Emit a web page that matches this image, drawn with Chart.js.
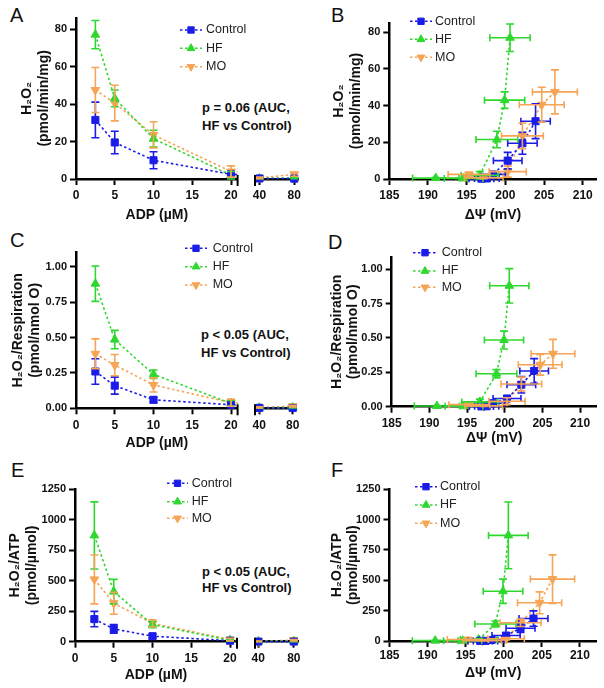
<!DOCTYPE html>
<html>
<head>
<meta charset="utf-8">
<script src="https://cdn.jsdelivr.net/npm/chart.js@4.4.0/dist/chart.umd.min.js"></script>
<style>
  body { margin: 0; background: #fff; width: 604px; height: 688px; position: relative; overflow: hidden; font-family: "Liberation Sans", Arial, sans-serif; }
  canvas { position: absolute; }
  .lbl { position: absolute; font-size: 20px; line-height: 20px; color: #111; }
  .note { position: absolute; font-weight: bold; font-size: 13px; white-space: nowrap; color: #111; }
</style>
</head>
<body>
<div class="lbl" style="left:10px;top:5px">A</div>
<div class="lbl" style="left:331px;top:5px">B</div>
<div class="lbl" style="left:10px;top:230px">C</div>
<div class="lbl" style="left:328px;top:232px">D</div>
<div class="lbl" style="left:11px;top:460px">E</div>
<div class="lbl" style="left:331px;top:460px">F</div>
<div class="note" style="left:202px;top:99px;line-height:17.5px">p = 0.06 (AUC,<br>HF vs Control)</div>
<div class="note" style="left:201px;top:326px;line-height:18px">p &lt; 0.05 (AUC,<br>HF vs Control)</div>
<div class="note" style="left:202px;top:564px;line-height:15.5px">p &lt; 0.05 (AUC,<br>HF vs Control)</div>
<script>
// ADP steps (µM)
const adp = [2.5, 5, 10, 20, 40, 80];

// membrane potential ΔΨ (mV) at each ADP step, with SEM
const psiControl = [203.9, 202.2, 200.3, 198.4, 197.6, 196.9];
const psiControlErr = [1.9, 1.9, 1.85, 1.6, 1.6, 1.6];
const psiHF = [200.6, 199.9, 198.9, 196.7, 194.6, 191.0];
const psiHFErr = [2.6, 2.6, 2.7, 2.4, 2.5, 3.0];
const psiMO = [206.4, 204.7, 202.2, 200.3, 197.2, 195.3];
const psiMOErr = [2.9, 2.9, 2.7, 2.4, 2.5, 2.7];

// H2O2 emission (pmol/min/mg)
const h2o2Control = [31.5, 19.5, 10, 2.5, 0.3, 0.2];
const h2o2ControlErr = [9.5, 6, 4.5, 1, 0.2, 0.2];
const h2o2HF = [77, 43, 21.5, 2, 0.3, 0.5];
const h2o2HFErr = [7.5, 4.5, 4.5, 2, 0.2, 0.3];
const h2o2MO = [47.5, 40.5, 23.5, 4, 0.6, 2.5];
const h2o2MOErr = [12, 9.5, 7, 3, 0.4, 1];

// H2O2 / respiration (pmol/nmol O)
const respControl = [0.26, 0.16, 0.06, 0.025, 0.003, 0.002];
const respControlErr = [0.09, 0.06, 0.02, 0.01, 0.002, 0.002];
const respHF = [0.88, 0.485, 0.24, 0.035, 0.004, 0.005];
const respHFErr = [0.125, 0.065, 0.03, 0.02, 0.003, 0.003];
const respMO = [0.385, 0.305, 0.165, 0.04, 0.006, 0.015];
const respMOErr = [0.105, 0.075, 0.05, 0.025, 0.004, 0.006];

// H2O2 / ATP (pmol/µmol)
const atpControl = [185, 105, 45, 8, 1, 1];
const atpControlErr = [63, 35, 20, 5, 1, 1];
const atpHF = [870, 410, 140, 12, 2, 3];
const atpHFErr = [275, 100, 25, 8, 1, 2];
const atpMO = [510, 315, 150, 18, 3, 12];
const atpMOErr = [200, 90, 30, 10, 2, 5];

// tick labels
const adpTicks = [0, 5, 10, 15, 20];
const adpTicksHigh = [40, 80];
const psiTicks = [185, 190, 195, 200, 205, 210];
const h2o2Ticks = [0, 20, 40, 60, 80];
const respTicks = [0, 0.25, 0.5, 0.75, 1.0];
const atpTicks = [0, 250, 500, 750, 1000, 1250];

Chart.defaults.font.family = '"Liberation Sans", Arial, sans-serif';
Chart.defaults.color = '#111';

const colors = { Control: '#1c1ce8', HF: '#2fd82f', MO: '#f6a455' };
const shapes = { Control: ['rect', 0, 5], HF: ['triangle', 0, 5], MO: ['triangle', 180, 5] };

function series(name, xs, ys, yErr, xErr) {
  const c = colors[name];
  return {
    label: name,
    data: xs.map((x, i) => ({ x, y: ys[i] })),
    yErr, xErr,
    borderColor: c, backgroundColor: c,
    borderWidth: 1.6, borderDash: [2.5, 2.5],
    pointStyle: shapes[name][0], pointRotation: shapes[name][1], pointRadius: shapes[name][2],
    pointBorderWidth: 1, pointBackgroundColor: c, pointBorderColor: c,
    tension: 0
  };
}

const h2o2Sets = xsC => [
  series('Control', xsC[0], h2o2Control, h2o2ControlErr, xsC[3]),
  series('HF', xsC[1], h2o2HF, h2o2HFErr, xsC[4]),
  series('MO', xsC[2], h2o2MO, h2o2MOErr, xsC[5])
];
const respSets = xsC => [
  series('Control', xsC[0], respControl, respControlErr, xsC[3]),
  series('HF', xsC[1], respHF, respHFErr, xsC[4]),
  series('MO', xsC[2], respMO, respMOErr, xsC[5])
];
const atpSets = xsC => [
  series('Control', xsC[0], atpControl, atpControlErr, xsC[3]),
  series('HF', xsC[1], atpHF, atpHFErr, xsC[4]),
  series('MO', xsC[2], atpMO, atpMOErr, xsC[5])
];
const byAdp = () => [adp, adp, adp, null, null, null];
const byPsi = () => [psiControl, psiHF, psiMO, psiControlErr, psiHFErr, psiMOErr];

// error bars drawn through the chart scales
const errorBars = {
  id: 'errorBars',
  afterDatasetsDraw(chart) {
    const { ctx, chartArea: a, scales: { x: xs, y: ys } } = chart;
    ctx.save();
    ctx.beginPath();
    ctx.rect(a.left - 6, a.top - 6, a.right - a.left + 12, a.bottom - a.top + 12);
    ctx.clip();
    ctx.lineWidth = 1.6;
    chart.data.datasets.forEach(ds => {
      ctx.strokeStyle = ds.borderColor;
      ds.data.forEach((p, i) => {
        const px = xs.getPixelForValue(p.x), py = ys.getPixelForValue(p.y);
        ctx.beginPath();
        if (ds.yErr) {
          const t = ys.getPixelForValue(p.y + ds.yErr[i]);
          const b = ys.getPixelForValue(Math.max(0, p.y - ds.yErr[i]));
          ctx.moveTo(px, t); ctx.lineTo(px, b);
          ctx.moveTo(px - 4, t); ctx.lineTo(px + 4, t);
          ctx.moveTo(px - 4, b); ctx.lineTo(px + 4, b);
        }
        if (ds.xErr) {
          const l = xs.getPixelForValue(p.x - ds.xErr[i]);
          const r = xs.getPixelForValue(p.x + ds.xErr[i]);
          ctx.moveTo(l, py); ctx.lineTo(r, py);
          ctx.moveTo(l, py - 3.5); ctx.lineTo(l, py + 3.5);
          ctx.moveTo(r, py - 3.5); ctx.lineTo(r, py + 3.5);
        }
        ctx.stroke();
      });
    });
    ctx.restore();
  }
};

// legend with dotted line + marker, like the original
const lineLegend = {
  id: 'lineLegend',
  afterDraw(chart, args, o) {
    if (!o.rows) return;
    const ctx = chart.ctx;
    const [ox, oy] = o.origin;
    chart.data.datasets.forEach((ds, i) => {
      const y = o.rows[i] - oy, x0 = o.x0 - ox, x1 = o.x1 - ox;
      ctx.save();
      ctx.strokeStyle = ds.borderColor;
      ctx.fillStyle = ds.borderColor;
      ctx.lineWidth = ds.borderWidth;
      ctx.setLineDash(ds.borderDash);
      ctx.beginPath(); ctx.moveTo(x0, y); ctx.lineTo(x1, y); ctx.stroke();
      ctx.setLineDash([]);
      ctx.lineWidth = 1;
      Chart.helpers.drawPoint(ctx, { pointStyle: ds.pointStyle, rotation: ds.pointRotation, radius: ds.pointRadius - 0.5, borderWidth: 1 }, (x0 + x1) / 2, y);
      ctx.fillStyle = '#222';
      ctx.font = '12.5px "Liberation Sans", Arial, sans-serif';
      ctx.textBaseline = 'middle';
      ctx.fillText(ds.label, o.tx - ox, y);
      ctx.restore();
    });
  }
};

// small marks at the broken x axis
const axisBreak = {
  id: 'axisBreak',
  afterDraw(chart, args, o) {
    if (!o.side) return;
    const { ctx, chartArea: a } = chart;
    const x = o.side === 'right' ? a.right : a.left;
    ctx.save();
    ctx.strokeStyle = '#000';
    ctx.lineWidth = 2;
    ctx.beginPath(); ctx.moveTo(x, a.bottom - 4); ctx.lineTo(x, a.bottom + 7); ctx.stroke();
    ctx.restore();
  }
};

const axisBorder = { display: true, color: '#000', width: 2.5 };
const axisGrid = { display: true, drawOnChartArea: false, drawTicks: true, tickLength: 6, tickWidth: 2, color: '#000', tickColor: '#000' };

function panel(p) {
  const [cx, cy, cw, ch] = p.box;
  const [L, T, R, B] = p.area;
  const cv = document.createElement('canvas');
  cv.width = cw; cv.height = ch;
  cv.style.left = cx + 'px'; cv.style.top = cy + 'px';
  document.body.appendChild(cv);
  const yShown = !!p.yTitle;
  const datasets = p.datasets();
  datasets.forEach(d => { d.clip = p.clip || 6; });
  return new Chart(cv, {
    type: 'line',
    data: { datasets },
    options: {
      responsive: false, animation: false, devicePixelRatio: 1,
      layout: { autoPadding: false, padding: { left: yShown ? 0 : L - cx, top: T - cy, right: cx + cw - R, bottom: 0 } },
      plugins: {
        legend: { display: false }, tooltip: { enabled: false },
        lineLegend: p.legend ? Object.assign({ origin: [cx, cy] }, p.legend) : false,
        axisBreak: p.brk ? { side: p.brk } : false
      },
      scales: {
        x: {
          type: 'linear', min: p.x.min, max: p.x.max,
          afterBuildTicks: s => { s.ticks = p.x.ticks.map(v => ({ value: v })); },
          afterFit: s => { s.height = cy + ch - B; },
          border: axisBorder, grid: axisGrid,
          ticks: { font: { size: 12, weight: 'bold' }, padding: p.xPad, maxRotation: 0, autoSkip: false, callback: v => String(v) },
          title: { display: !!p.xTitle, text: p.xTitle || '', font: { size: 14, weight: 'bold' }, padding: { top: 0, bottom: 2 } }
        },
        y: {
          type: 'linear', display: yShown, min: 0, max: p.y.max,
          afterBuildTicks: s => { s.ticks = p.y.ticks.map(v => ({ value: v })); },
          afterFit: s => { s.width = L - cx; },
          border: axisBorder, grid: axisGrid,
          ticks: { font: { size: 11, weight: 'bold' }, padding: 3, autoSkip: false, callback: p.y.fmt || (v => String(v)) },
          title: { display: yShown, text: p.yTitle || '', font: { size: 14, weight: 'bold' }, padding: { top: p.yPad || 0, bottom: 0 } }
        }
      }
    },
    plugins: [errorBars, lineLegend, axisBreak]
  });
}

const mainClip = { left: 6, top: 6, right: 0, bottom: 6 };
const highClip = { left: 0, top: 6, right: 6, bottom: 6 };
const fmt2 = v => v.toFixed(2);

// A
panel({ box: [0, 0, 300, 226], area: [76, 17.75, 237.6, 179], x: { min: 0, max: 20.85, ticks: adpTicks }, y: { max: 86, ticks: h2o2Ticks },
  xTitle: 'ADP (µM)', yTitle: ['H₂O₂', '(pmol/min/mg)'], yPad: 18.6, xPad: 3, clip: mainClip, brk: 'right',
  legend: { rows: [30, 48.3, 66.7], x0: 180, x1: 202, tx: 206 }, datasets: () => h2o2Sets(byAdp()) });
panel({ box: [245, 0, 59, 226], area: [250, 17.75, 303, 179], x: { min: 34.9, max: 84.4, ticks: adpTicksHigh }, y: { max: 86, ticks: h2o2Ticks },
  xPad: 3, clip: highClip, brk: 'left', datasets: () => h2o2Sets(byAdp()) });
// B
panel({ box: [300, 0, 304, 226], area: [389.3, 23.1, 596.7, 179], x: { min: 185, max: 211.8, ticks: psiTicks }, y: { max: 85, ticks: h2o2Ticks },
  xTitle: 'ΔΨ (mV)', yTitle: ['H₂O₂', '(pmol/min/mg)'], yPad: 30.6, xPad: 3,
  legend: { rows: [21.3, 39.3, 57.3], x0: 410, x1: 432, tx: 435 }, datasets: () => h2o2Sets(byPsi()) });
// C
panel({ box: [0, 232, 300, 222], area: [76, 252.5, 237.6, 408.3], x: { min: 0, max: 20.85, ticks: adpTicks }, y: { max: 1.1, ticks: respTicks, fmt: fmt2 },
  xTitle: 'ADP (µM)', yTitle: ['H₂O₂/Respiration', '(pmol/nmol O)'], yPad: 9.6, xPad: 4.5, clip: mainClip, brk: 'right',
  legend: { rows: [248.3, 266.7, 285], x0: 185, x1: 207, tx: 212.7 }, datasets: () => respSets(byAdp()) });
panel({ box: [245, 232, 59, 222], area: [250, 252.5, 303, 408.3], x: { min: 34.9, max: 84.4, ticks: adpTicksHigh }, y: { max: 1.1, ticks: respTicks },
  xPad: 4.5, clip: highClip, brk: 'left', datasets: () => respSets(byAdp()) });
// D
panel({ box: [300, 232, 304, 217], area: [391.7, 256.9, 596.7, 406.7], x: { min: 185, max: 212.2, ticks: psiTicks }, y: { max: 1.09, ticks: respTicks, fmt: fmt2 },
  xTitle: 'ΔΨ (mV)', yTitle: ['H₂O₂/Respiration', '(pmol/nmol O)'], yPad: 28.3, xPad: 4,
  legend: { rows: [252.7, 271, 287.3], x0: 413, x1: 437, tx: 441.7 }, datasets: () => respSets(byPsi()) });
// E
panel({ box: [0, 460, 300, 226], area: [75, 489, 237, 641.7], x: { min: 0, max: 20.9, ticks: adpTicks }, y: { max: 1250, ticks: atpTicks },
  xTitle: 'ADP (µM)', yTitle: ['H₂O₂/ATP', '(pmol/µmol)'], yPad: 6.6, xPad: 3.4, clip: mainClip, brk: 'right',
  legend: { rows: [483.3, 501.7, 518.3], x0: 167, x1: 188, tx: 191.7 }, datasets: () => atpSets(byAdp()) });
panel({ box: [245, 460, 59, 226], area: [250, 489, 303, 641.7], x: { min: 36.3, max: 85.1, ticks: adpTicksHigh }, y: { max: 1250, ticks: atpTicks },
  xPad: 3.4, clip: highClip, brk: 'left', datasets: () => atpSets(byAdp()) });
// F
panel({ box: [300, 460, 304, 224], area: [389.5, 489.3, 596.7, 641], x: { min: 185, max: 212.2, ticks: psiTicks }, y: { max: 1250, ticks: atpTicks },
  xTitle: 'ΔΨ (mV)', yTitle: ['H₂O₂/ATP', '(pmol/µmol)'], yPad: 28.3, xPad: 1,
  legend: { rows: [486.7, 505, 523.3], x0: 415, x1: 437, tx: 440 }, datasets: () => atpSets(byPsi()) });
</script>
</body>
</html>
